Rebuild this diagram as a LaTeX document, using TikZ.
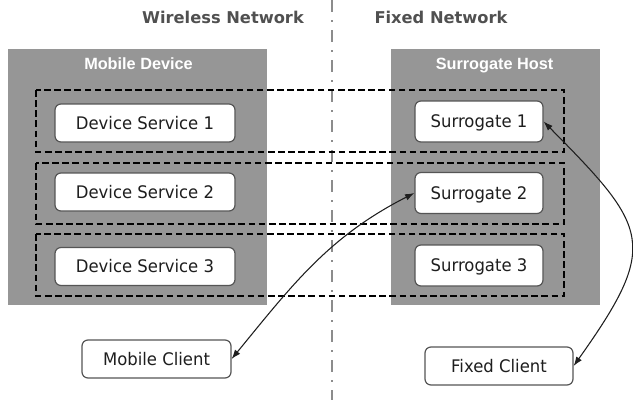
\documentclass[tikz,border=0pt]{standalone}
\usepackage{fontspec}
\setmainfont{DejaVu Sans}[FakeStretch=0.95]
\newfontfamily\titlefont{DejaVu Sans}
\newfontfamily\hdrfont{Liberation Sans}
\usetikzlibrary{arrows.meta}
\definecolor{hostgray}{RGB}{150,150,150}
\definecolor{boxborder}{RGB}{85,85,85}
\definecolor{textdark}{RGB}{30,30,30}
\definecolor{titlegray}{RGB}{80,80,80}
\definecolor{divgray}{RGB}{140,140,140}
\begin{document}
\begin{tikzpicture}[x=0.75pt,y=-0.75pt,
  hostbox/.style={fill=hostgray,draw=none},
  rowbox/.style={draw=black,line width=1pt,dash pattern=on 5pt off 2.6pt},
  divider/.style={draw=divgray,line width=1.1pt,dash pattern=on 9pt off 6pt on 1.5pt off 6pt},
  svcbox/.style={draw=boxborder,fill=white,line width=0.9pt,rounded corners=4.5pt,
    text=textdark,font=\fontsize{13}{15}\selectfont,text height=9.5pt,text depth=0pt,
    inner sep=0pt},
  titletext/.style={text=titlegray,font=\titlefont\bfseries\fontsize{12.2}{14}\selectfont,anchor=base,inner sep=0pt},
  hdrtext/.style={text=white,font=\hdrfont\bfseries\fontsize{12.2}{14}\selectfont,anchor=base,inner sep=0pt},
  link/.style={draw=textdark,line width=0.8pt,{Latex[length=7pt,width=5pt]}-{Latex[length=7pt,width=5pt]}}
]
\useasboundingbox (0,0) rectangle (633,400);
% host areas
\fill[hostbox] (8,49) rectangle (267,305);
\fill[hostbox] (391,49) rectangle (600,305);
% divider
\coordinate (dtop) at (332,0);
\coordinate (dbot) at (332,400);
\draw[divider] (dtop) -- (dbot);
% titles
\node[titletext] (wl) at (223,23.5) {Wireless Network};
\node[titletext] (fx) at (441,23.5) {Fixed Network};
\node[hdrtext] (md) at (138.5,69) {Mobile Device};
\node[hdrtext] (sh) at (494.5,69) {Surrogate Host};
% dashed rows
\draw[rowbox] (36,90) rectangle (564,152);
\draw[rowbox] (36,163) rectangle (564,224);
\draw[rowbox] (36,234) rectangle (564,296);
% device services
\node[svcbox,minimum width=135pt,minimum height=28.5pt] (ds1) at (145,123) {Device Service 1};
\node[svcbox,minimum width=135pt,minimum height=28.5pt] (ds2) at (145,192) {Device Service 2};
\node[svcbox,minimum width=135pt,minimum height=28.5pt] (ds3) at (145,266.5) {Device Service 3};
% surrogates
\node[svcbox,minimum width=96pt,minimum height=30.75pt] (s1) at (479,121.5) {Surrogate 1};
\node[svcbox,minimum width=96pt,minimum height=30.75pt] (s2) at (479,193) {Surrogate 2};
\node[svcbox,minimum width=96pt,minimum height=30.75pt] (s3) at (479,265.5) {Surrogate 3};
% clients
\node[svcbox,minimum width=111.75pt,minimum height=28.5pt] (mc) at (156.5,359) {Mobile Client};
\node[svcbox,minimum width=111pt,minimum height=28.5pt] (fc) at (499,366) {Fixed Client};
% connectors
\draw[link] (mc.east) .. controls (293,284) and (329,236.5) .. (s2.west);
\draw[link] (s1.east) .. controls (649,228) and (660,244.5) .. (fc.east);
\end{tikzpicture}
\end{document}
